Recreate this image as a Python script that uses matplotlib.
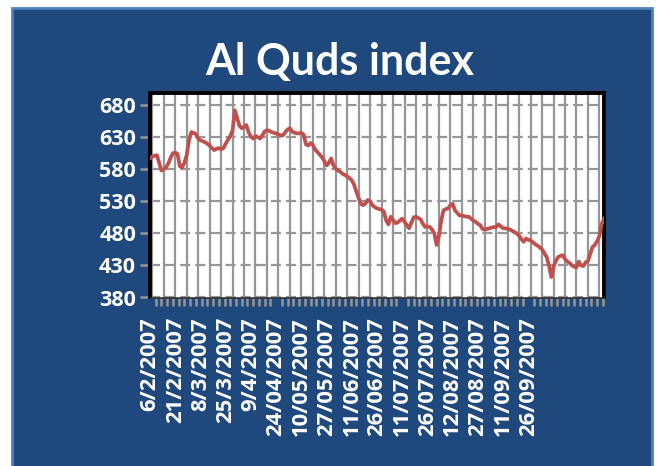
import matplotlib
matplotlib.use('Agg')
import matplotlib.pyplot as plt
from matplotlib.patches import Rectangle
from matplotlib.ticker import MultipleLocator, FixedLocator

# Al Quds index, one value per trading day
values = [597, 600, 601, 602, 590, 578, 580, 583, 589, 598,
          605, 606, 604, 585, 583, 590, 602, 625, 638, 637,
          635, 628, 625, 624, 622, 620, 617, 613, 610, 612,
          613, 611, 613, 620, 626, 632, 640, 672, 660, 648,
          644, 646, 649, 638, 631, 628, 632, 630, 628, 633,
          639, 641, 640, 638, 637, 636, 634, 633, 633, 638,
          642, 644, 639, 637, 636, 636, 637, 634, 619, 617,
          621, 618, 611, 607, 603, 599, 593, 586, 590, 597,
          586, 581, 578, 576, 573, 571, 569, 566, 563, 556,
          545, 535, 526, 524, 527, 532, 530, 524, 521, 519,
          518, 517, 514, 500, 494, 506, 501, 496, 497, 500,
          503, 498, 493, 488, 497, 505, 506, 504, 502, 495,
          490, 491, 490, 486, 480, 462, 476, 500, 516, 518,
          519, 524, 526, 516, 512, 508, 508, 507, 506, 506,
          503, 500, 498, 495, 493, 487, 486, 487, 488, 489,
          490, 490, 494, 491, 488, 488, 487, 486, 484, 482,
          480, 476, 471, 467, 472, 470, 469, 466, 463, 461,
          458, 455, 449, 443, 430, 412, 428, 437, 443, 445,
          446, 440, 436, 434, 430, 428, 427, 436, 430, 429,
          435, 437, 448, 459, 462, 468, 476, 495, 503]

date_labels = ['6/2/2007', '21/2/2007', '8/3/2007', '25/3/2007', '9/4/2007',
               '24/04/2007', '10/05/2007', '27/05/2007', '11/06/2007', '26/06/2007',
               '11/07/2007', '26/07/2007', '12/08/2007', '27/08/2007', '11/09/2007',
               '26/09/2007']
label_step = 11
grid_step = 5
y_ticks = [380, 430, 480, 530, 580, 630, 680]

navy = '#1F497D'
line_red = '#C0504D'
grid_gray = '#969696'

plt.rcParams['font.family'] = ['Lato', 'DejaVu Sans']
tick_font = ['Open Sans', 'DejaVu Sans']

fig = plt.figure(figsize=(6.6, 4.66), dpi=100)
fig.patch.set_facecolor('white')

# dark blue panel with light border (behind the axes)
panel = Rectangle((12/660, -0.05), 640/660, 1.05 - 8/466,
                  transform=fig.transFigure, facecolor=navy,
                  edgecolor='#4F81BD', linewidth=2, zorder=-10)
fig.patches.append(panel)

ax = fig.add_axes([150/660, 1 - 297.5/466, 454/660, (297.5 - 93)/466])
ax.set_zorder(5)
ax.set_facecolor('white')

x = list(range(len(values)))
ax.plot(x, values, color=line_red, linewidth=2.7, zorder=3, solid_joinstyle='round')

ax.set_xlim(0, len(values) - 1)
ax.set_ylim(380, 699)

# vertical gridlines every few days
for gx in range(1, len(values), grid_step):
    ax.axvline(gx, color=grid_gray, linewidth=1.6, zorder=1)

ax.yaxis.set_major_locator(FixedLocator(y_ticks))
ax.yaxis.grid(True, color=grid_gray, linewidth=1.6, linestyle=(0, (4.5, 2.3)), zorder=1)
ax.set_axisbelow(True)

label_pos = [i * label_step for i in range(len(date_labels))]
ax.set_xticks(label_pos)
ax.set_xticklabels(date_labels, rotation=90, color='white', fontsize=15.8,
                   fontweight='bold', family=tick_font)
ax.xaxis.set_minor_locator(MultipleLocator(2.5))
ax.tick_params(axis='x', which='major', length=0, pad=14)
ax.tick_params(axis='x', which='minor', length=6, width=1.8, color=grid_gray)

ax.tick_params(axis='y', which='major', length=7, width=1.8, color=grid_gray,
               labelcolor='white', labelsize=15.5, pad=3)
for t in ax.get_yticklabels():
    t.set_fontweight('bold')
    t.set_family(tick_font)

for side in ['left', 'top', 'right']:
    ax.spines[side].set_linewidth(2.8)
    ax.spines[side].set_color('black')
ax.spines['bottom'].set_linewidth(1.2)
ax.spines['bottom'].set_color('#333333')

fig.text(340/660, 1 - 62/466, 'Al Quds index', color='white', fontsize=31,
         fontweight='bold', ha='center', va='center')

fig.savefig('out.png', dpi=100, facecolor=fig.get_facecolor())
